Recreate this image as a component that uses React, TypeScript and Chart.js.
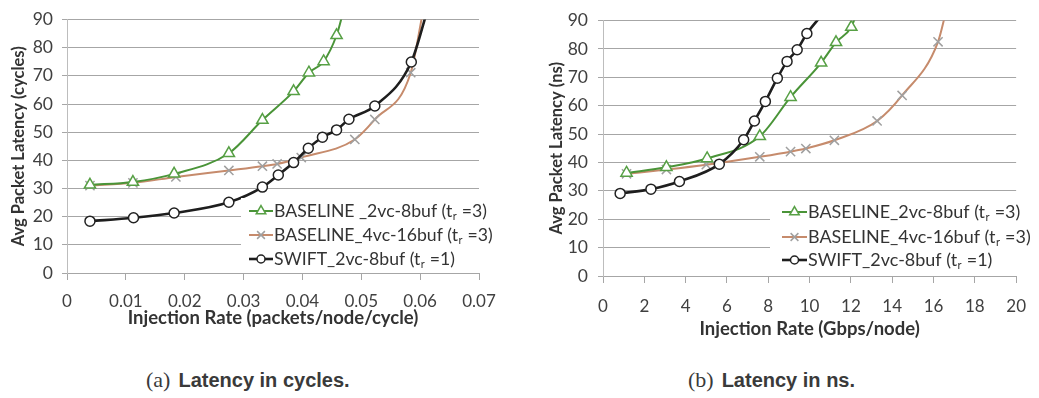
import React, { useEffect, useRef } from 'react';
import { Chart, registerables } from 'chart.js';

Chart.register(...registerables);

// ---------------- data: (a) latency in cycles ----------------
const cyclesBase2X = [0.0039, 0.0112, 0.0182, 0.0275, 0.0332, 0.0385, 0.0411, 0.0436, 0.0458, 0.0469];
const cyclesBase2Y = [31.3, 32.3, 35.2, 42.5, 54.3, 64.5, 71.1, 75.1, 84.4, 92.5];
const cyclesBase4X = [0.0039, 0.0112, 0.0185, 0.0275, 0.0332, 0.0357, 0.0398, 0.0489, 0.0523, 0.0584, 0.0605];
const cyclesBase4Y = [31.0, 32.0, 34.1, 36.4, 37.9, 38.7, 41.0, 47.4, 54.5, 71.1, 93];
const cyclesSwiftX = [0.0039, 0.0113, 0.0182, 0.0275, 0.0332, 0.0359, 0.0385, 0.041, 0.0434, 0.0458, 0.0479, 0.0523, 0.0585, 0.0612];
const cyclesSwiftY = [18.4, 19.6, 21.3, 25.1, 30.5, 34.8, 39.2, 44.3, 48.2, 50.8, 54.6, 59.3, 74.9, 93];

// ---------------- data: (b) latency in ns ----------------
const nsBase2X = [1.14, 3.07, 5.04, 7.59, 9.08, 10.56, 11.28, 12.02, 12.25];
const nsBase2Y = [36.3, 38.3, 41.4, 49.2, 63.0, 75.1, 82.3, 87.7, 92];
const nsBase4X = [1.14, 3.07, 5.0, 7.59, 9.08, 9.82, 11.2, 13.27, 14.48, 16.22, 16.6];
const nsBase4Y = [36.0, 37.5, 39.2, 42.0, 43.8, 44.9, 47.8, 54.6, 63.6, 82.5, 93];
const nsSwiftX = [0.83, 2.32, 3.7, 5.63, 6.81, 7.33, 7.86, 8.44, 8.91, 9.4, 9.87, 10.6];
const nsSwiftY = [29.1, 30.6, 33.3, 39.4, 48.0, 54.6, 61.5, 69.7, 75.6, 79.7, 85.4, 92];

// ---------------- ticks & text ----------------
const cyclesTickValues = [0, 0.01, 0.02, 0.03, 0.04, 0.05, 0.06, 0.07];
const cyclesTickLabels = ['0', '0.01', '0.02', '0.03', '0.04', '0.05', '0.06', '0.07'];
const nsTickValues = [0, 2, 4, 6, 8, 10, 12, 14, 16, 18, 20];
const nsTickLabels = ['0', '2', '4', '6', '8', '10', '12', '14', '16', '18', '20'];
const yTickValues = [0, 10, 20, 30, 40, 50, 60, 70, 80, 90];
const yTickLabels = ['0', '10', '20', '30', '40', '50', '60', '70', '80', '90'];

const seriesLabels = ['BASELINE_2vc-8buf', 'BASELINE_4vc-16buf', 'SWIFT_2vc-8buf'];
const legendA = [
  { pre: 'BASELINE _2vc-8buf (t', sub: 'r', post: ' =3)' },
  { pre: 'BASELINE_4vc-16buf (t', sub: 'r', post: ' =3)' },
  { pre: 'SWIFT_2vc-8buf (t', sub: 'r', post: ' =1)' },
];
const legendB = [
  { pre: 'BASELINE_2vc-8buf (t', sub: 'r', post: ' =3)' },
  { pre: 'BASELINE_4vc-16buf (t', sub: 'r', post: ' =3)' },
  { pre: 'SWIFT_2vc-8buf (t', sub: 'r', post: ' =1)' },
];
const xTitleA = 'Injection Rate (packets/node/cycle)';
const yTitleA = 'Avg Packet Latency (cycles)';
const xTitleB = 'Injection Rate (Gbps/node)';
const yTitleB = 'Avg Packet Latency (ns)';
const captionA = ['(a)', 'Latency in cycles.'];
const captionB = ['(b)', 'Latency in ns.'];

// ---------------- styling ----------------
const FAMILY = 'Lato, "Open Sans", "DejaVu Sans", sans-serif';
const STYLES = [
  { line: '#4a9438', marker: 'triangle', stroke: '#57a045', width: 2, radius: 6.5, order: 1 },
  { line: '#c68b6c', marker: 'crossRot', stroke: '#a0a0a0', width: 2, radius: 6.5, order: 2 },
  { line: '#1e1e1e', marker: 'circle', stroke: '#222222', width: 2.6, radius: 5, order: 0 },
];

function drawMarker(ctx: CanvasRenderingContext2D, style: string, x: number, y: number, r: number, stroke: string) {
  ctx.save();
  ctx.lineWidth = 1.5;
  ctx.strokeStyle = stroke;
  ctx.fillStyle = '#ffffff';
  ctx.beginPath();
  if (style === 'circle') {
    ctx.arc(x, y, r, 0, Math.PI * 2);
    ctx.fill();
    ctx.stroke();
  } else if (style === 'triangle') {
    for (let k = 0; k < 3; k++) {
      const a = (k * 2 * Math.PI) / 3;
      const px = x + Math.sin(a) * r;
      const py = y - Math.cos(a) * r;
      if (k === 0) ctx.moveTo(px, py);
      else ctx.lineTo(px, py);
    }
    ctx.closePath();
    ctx.fill();
    ctx.stroke();
  } else {
    const d = r * Math.SQRT1_2;
    ctx.moveTo(x - d, y - d);
    ctx.lineTo(x + d, y + d);
    ctx.moveTo(x + d, y - d);
    ctx.lineTo(x - d, y + d);
    ctx.stroke();
  }
  ctx.restore();
}

type Geom = {
  width: number; height: number;
  left: number; right: number; top: number; bottom: number;
  yTitlePad: number; yTickPad: number; xTickPad: number; xTitlePad: number;
  box: { x: number; y: number; w: number; h: number };
  rows: number[]; lineX0: number; lineX1: number; textX: number; fitWidth: number;
};

function makeLegendPlugin(items: { pre: string; sub: string; post: string }[], g: Geom) {
  return {
    id: 'insetLegend',
    afterDraw(chart: any) {
      const ctx: CanvasRenderingContext2D = chart.ctx;
      ctx.save();
      ctx.fillStyle = '#ffffff';
      ctx.fillRect(g.box.x, g.box.y, g.box.w, g.box.h);
      const ref = items[1];
      ctx.font = `100px ${FAMILY}`;
      let w = ctx.measureText(ref.pre + ref.post).width;
      ctx.font = `62px ${FAMILY}`;
      w += ctx.measureText(ref.sub).width + 1;
      const size = (100 * g.fitWidth) / w;
      items.forEach((it, i) => {
        const st = STYLES[i];
        const y = g.rows[i];
        ctx.strokeStyle = st.line;
        ctx.lineWidth = st.width;
        ctx.beginPath();
        ctx.moveTo(g.lineX0, y);
        ctx.lineTo(g.lineX1, y);
        ctx.stroke();
        drawMarker(ctx, st.marker, (g.lineX0 + g.lineX1) / 2, y, st.radius - 1, st.stroke);
        ctx.fillStyle = '#333333';
        ctx.textBaseline = 'alphabetic';
        ctx.textAlign = 'left';
        const base = y + size * 0.36;
        let x = g.textX;
        ctx.font = `${size}px ${FAMILY}`;
        ctx.fillText(it.pre, x, base);
        x += ctx.measureText(it.pre).width;
        ctx.font = `${size * 0.62}px ${FAMILY}`;
        ctx.fillText(it.sub, x + 0.5, base + size * 0.16);
        x += ctx.measureText(it.sub).width + 1;
        ctx.font = `${size}px ${FAMILY}`;
        ctx.fillText(it.post, x, base);
      });
      ctx.restore();
    },
  };
}

function buildDatasets(xsList: number[][], ysList: number[][]) {
  return xsList.map((xs, s) => {
    const st = STYLES[s];
    const ys = ysList[s];
    const n = xs.length;
    return {
      label: seriesLabels[s],
      data: xs.map((x, i) => ({ x, y: ys[i] })),
      borderColor: st.line,
      borderWidth: st.width,
      pointStyle: st.marker,
      pointRadius: (c: any) => (c.dataIndex === n - 1 ? 0 : st.radius),
      pointBorderColor: st.stroke,
      pointBackgroundColor: '#ffffff',
      pointBorderWidth: 1.5,
      cubicInterpolationMode: 'monotone',
      order: st.order,
    };
  });
}

function makeConfig(
  datasets: any[], xMin: number, xMax: number, xTickVals: number[], xTickLabs: string[],
  xTitle: string, yTitle: string, g: Geom, legendItems: any[]
): any {
  return {
    type: 'line',
    data: { datasets },
    plugins: [makeLegendPlugin(legendItems, g)],
    options: {
      responsive: false,
      animation: false,
      devicePixelRatio: 1,
      layout: { padding: { left: 0, top: g.top, right: g.width - g.right, bottom: 0 } },
      plugins: { legend: { display: false }, tooltip: { enabled: false } },
      scales: {
        x: {
          type: 'linear',
          min: xMin,
          max: xMax,
          afterFit: (s: any) => { s.height = g.height - g.bottom; },
          afterBuildTicks: (s: any) => { s.ticks = xTickVals.map((v) => ({ value: v })); },
          ticks: {
            callback: (_v: any, i: number) => xTickLabs[i],
            autoSkip: false,
            maxRotation: 0,
            padding: g.xTickPad,
            color: '#404040',
            font: { family: FAMILY, size: 17 },
          },
          grid: { drawOnChartArea: false, drawTicks: true, tickLength: 7, color: '#a6a6a6' },
          border: { display: true, color: '#a6a6a6' },
          title: {
            display: true,
            text: xTitle,
            color: '#333333',
            font: { family: FAMILY, size: 18.5, weight: 'bold' },
            padding: { top: 0, bottom: g.xTitlePad },
          },
        },
        y: {
          type: 'linear',
          min: 0,
          max: 90,
          afterFit: (s: any) => { s.width = g.left; },
          afterBuildTicks: (s: any) => { s.ticks = yTickValues.map((v) => ({ value: v })); },
          ticks: {
            callback: (_v: any, i: number) => yTickLabels[i],
            padding: g.yTickPad,
            color: '#404040',
            font: { family: FAMILY, size: 17.5 },
          },
          grid: { color: '#a6a6a6', lineWidth: 1, drawTicks: true, tickLength: 5 },
          border: { display: true, color: '#bdbdbd' },
          title: {
            display: true,
            text: yTitle,
            color: '#333333',
            font: { family: FAMILY, size: 16.5, weight: 'bold' },
            padding: { top: g.yTitlePad, bottom: 0 },
          },
        },
      },
    },
  };
}

const geomA: Geom = {
  width: 515, height: 345,
  left: 67, right: 479, top: 14, bottom: 273,
  yTitlePad: 9, yTickPad: 9, xTickPad: 11, xTitlePad: 16,
  box: { x: 241, y: 198, w: 274, h: 72 },
  rows: [211, 235, 259], lineX0: 249, lineX1: 273, textX: 274, fitWidth: 218,
};
const geomB: Geom = {
  width: 519, height: 345,
  left: 83, right: 508, top: 15, bottom: 276,
  yTitlePad: 27, yTickPad: 10, xTickPad: 13, xTitlePad: 5,
  box: { x: 250, y: 196, w: 269, h: 77 },
  rows: [212, 237, 260], lineX0: 262, lineX1: 287, textX: 288, fitWidth: 222,
};

function ChartCanvas({ config, g, left }: { config: () => any; g: Geom; left: number }) {
  const ref = useRef<HTMLCanvasElement | null>(null);
  useEffect(() => {
    if (!ref.current) return;
    const chart = new Chart(ref.current, config());
    return () => chart.destroy();
  }, []);
  return (
    <canvas
      ref={ref}
      width={g.width}
      height={g.height}
      style={{ position: 'absolute', left, top: 0, width: g.width, height: g.height }}
    />
  );
}

function Caption({ parts, left }: { parts: string[]; left: number }) {
  return (
    <div
      style={{
        position: 'absolute', left, top: 366, height: 28, lineHeight: '28px',
        whiteSpace: 'nowrap', color: '#3a3a3a',
      }}
    >
      <span style={{ fontFamily: '"Liberation Serif", "DejaVu Serif", serif', fontSize: 22 }}>{parts[0]}</span>
      <span style={{ fontFamily: '"Liberation Sans", "DejaVu Sans", sans-serif', fontSize: 20, fontWeight: 'bold', marginLeft: 8 }}>
        {parts[1]}
      </span>
    </div>
  );
}

export default function App() {
  const cfgA = () =>
    makeConfig(
      buildDatasets([cyclesBase2X, cyclesBase4X, cyclesSwiftX], [cyclesBase2Y, cyclesBase4Y, cyclesSwiftY]),
      0, 0.07, cyclesTickValues, cyclesTickLabels, xTitleA, yTitleA, geomA, legendA
    );
  const cfgB = () =>
    makeConfig(
      buildDatasets([nsBase2X, nsBase4X, nsSwiftX], [nsBase2Y, nsBase4Y, nsSwiftY]),
      0, 20, nsTickValues, nsTickLabels, xTitleB, yTitleB, geomB, legendB
    );
  return (
    <div style={{ position: 'absolute', left: 0, top: 0, width: 1039, height: 398, background: '#ffffff', overflow: 'hidden' }}>
      <ChartCanvas config={cfgA} g={geomA} left={0} />
      <ChartCanvas config={cfgB} g={geomB} left={520} />
      <Caption parts={captionA} left={146} />
      <Caption parts={captionB} left={688} />
    </div>
  );
}
